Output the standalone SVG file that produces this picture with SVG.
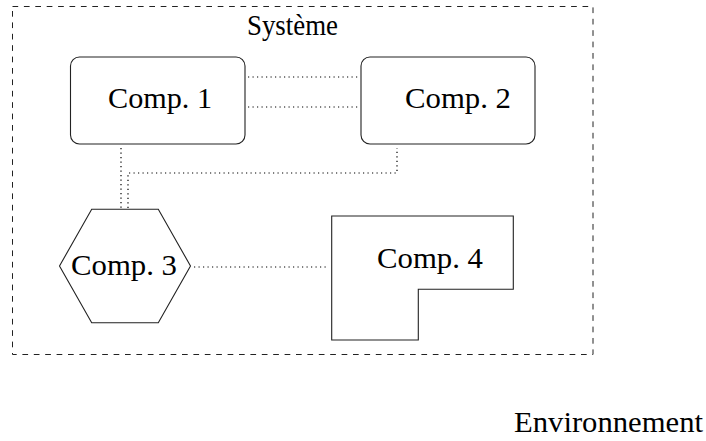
<svg xmlns="http://www.w3.org/2000/svg" width="706" height="441" viewBox="0 0 706 441">
<style>
.node{fill:#fff;stroke:#222;stroke-width:1.1}
.lbl{font-family:"Liberation Serif","DejaVu Serif",serif;font-size:29px;fill:#000}
.dot{fill:none;stroke:#000;stroke-width:1.2;stroke-dasharray:1.2 3.3}
.frame{fill:none;stroke:#222;stroke-width:1;stroke-dasharray:5.7 5.7}
</style>
<rect width="706" height="441" fill="#fff"/>
<g id="systeme">
<rect class="frame" x="12.5" y="6.5" width="580.5" height="348"/>
<text class="lbl" x="247" y="35" textLength="91" lengthAdjust="spacingAndGlyphs">Système</text>
</g>
<g id="connectors">
<line class="dot" x1="248" y1="77" x2="358" y2="77"/>
<line class="dot" x1="248" y1="107" x2="358" y2="107"/>
<path class="dot" d="M121,148 V208"/>
<path class="dot" d="M128,208 V173 H397 V148"/>
<line class="dot" x1="194" y1="267" x2="329" y2="267"/>
</g>
<g id="comp1">
<rect class="node" x="70.5" y="57" width="174.5" height="87" rx="9"/>
<text class="lbl" x="108" y="108" textLength="104" lengthAdjust="spacingAndGlyphs">Comp. 1</text>
</g>
<g id="comp2">
<rect class="node" x="361" y="57" width="174" height="87" rx="9"/>
<text class="lbl" x="405" y="108" textLength="106" lengthAdjust="spacingAndGlyphs">Comp. 2</text>
</g>
<g id="comp3">
<polygon class="node" points="59.5,266 91.7,209.3 158.3,209.3 190.5,266 158.3,322.7 91.7,322.7"/>
<text class="lbl" x="71" y="275" textLength="106" lengthAdjust="spacingAndGlyphs">Comp. 3</text>
</g>
<g id="comp4">
<polygon class="node" points="331.7,216 513.3,216 513.3,289.3 418.3,289.3 418.3,340 331.7,340"/>
<text class="lbl" x="377" y="268" textLength="106" lengthAdjust="spacingAndGlyphs">Comp. 4</text>
</g>
<g id="environnement">
<text class="lbl" x="514" y="432" textLength="189" lengthAdjust="spacingAndGlyphs">Environnement</text>
</g>
</svg>
